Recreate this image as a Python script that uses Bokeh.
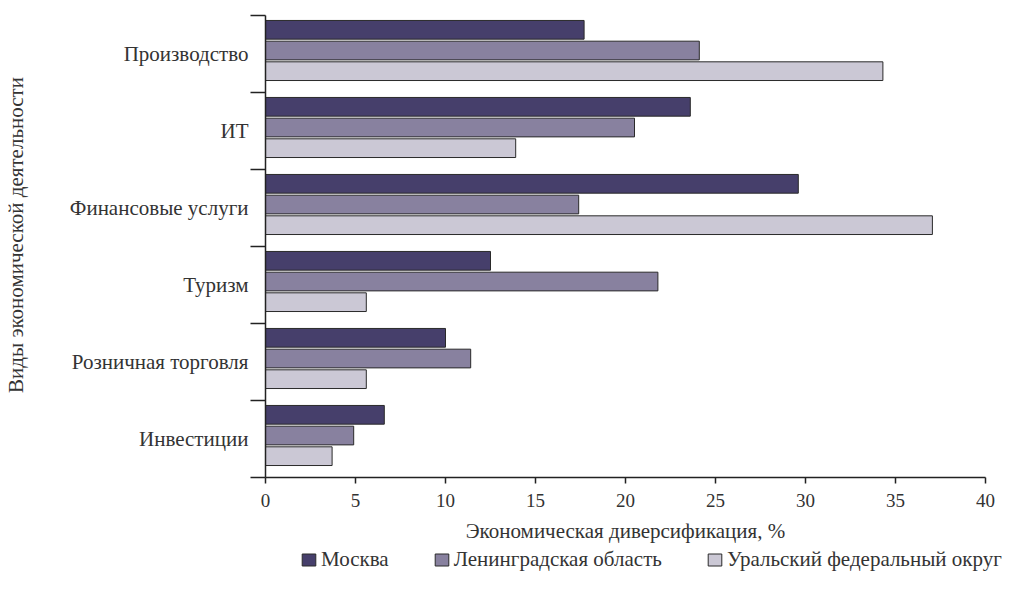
import math
from bokeh.plotting import figure
from bokeh.models import (ColumnDataSource, Range1d, FixedTicker, Legend, LegendItem, Label)
from bokeh.layouts import column, row
from bokeh.embed import file_html
from bokeh.resources import INLINE

categories = ["Производство", "ИТ", "Финансовые услуги", "Туризм", "Розничная торговля", "Инвестиции"]
series = ["Москва", "Ленинградская область", "Уральский федеральный округ"]
moscow = [17.7, 23.6, 29.6, 12.5, 10.0, 6.6]
leningrad = [24.1, 20.5, 17.4, 21.8, 11.4, 4.9]
ural = [34.3, 13.9, 37.05, 5.6, 5.6, 3.7]
x_ticks = [0, 5, 10, 15, 20, 25, 30, 35, 40]
x_title = "Экономическая диверсификация, %"
y_title = "Виды экономической деятельности"

colors = ["#463f6b", "#88819f", "#cbc8d5"]
FONT = "Liberation Serif"
TXT = "#333333"

n = len(categories)
tops = [n - i for i in range(n)]

TOP, BOTTOM, H = 15, 70, 547

p = figure(width=988, height=H, output_backend="svg", toolbar_location=None,
           x_range=Range1d(0, 40), y_range=Range1d(0, n),
           min_border_left=235, min_border_top=TOP, min_border_right=33, min_border_bottom=BOTTOM)
p.outline_line_color = None
p.grid.grid_line_color = None
p.background_fill_color = "white"
p.border_fill_color = "white"

offsets = [0.186, 0.455, 0.723]
vals = [moscow, leningrad, ural]
sources = []
for k in range(3):
    src = ColumnDataSource(dict(y=[t - offsets[k] for t in tops], right=vals[k]))
    sources.append(src)
    p.hbar(y="y", left=0, right="right", height=0.243, source=src,
           fill_color=colors[k], line_color="#2a2a2a", line_width=1)

# x axis
xa = p.xaxis[0]
xa.ticker = FixedTicker(ticks=x_ticks, minor_ticks=[])
xa.axis_line_color = "#222222"
xa.axis_line_width = 1.5
xa.major_tick_line_color = "#222222"
xa.major_tick_line_width = 1.5
xa.major_tick_in = 0
xa.major_tick_out = 6
xa.minor_tick_line_color = None
xa.major_label_standoff = 10
xa.major_label_text_font = FONT
xa.major_label_text_font_size = "19px"
xa.major_label_text_color = TXT
xa.axis_label = x_title
xa.axis_label_text_font = FONT
xa.axis_label_text_font_size = "21px"
xa.axis_label_text_font_style = "normal"
xa.axis_label_text_color = TXT
xa.axis_label_standoff = 9

# y axis
ya = p.yaxis[0]
centers = [t - 0.5 for t in tops]
ya.ticker = FixedTicker(ticks=centers, minor_ticks=list(range(n + 1)))
ya.major_label_overrides = {c: cat for c, cat in zip(centers, categories)}
ya.axis_line_color = "#222222"
ya.axis_line_width = 1.5
ya.major_tick_line_color = None
ya.major_tick_in = 0
ya.major_tick_out = 0
ya.minor_tick_line_color = "#222222"
ya.minor_tick_line_width = 1.5
ya.minor_tick_in = 0
ya.minor_tick_out = 15
ya.major_label_standoff = 2
ya.major_label_text_font = FONT
ya.major_label_text_font_size = "21px"
ya.major_label_text_color = TXT

# y-axis title strip (left)
pt = figure(width=30, height=H, output_backend="svg", toolbar_location=None,
            x_range=Range1d(0, 1), y_range=Range1d(0, n),
            min_border_left=0, min_border_right=0, min_border_top=TOP, min_border_bottom=BOTTOM)
pt.axis.visible = False
pt.grid.grid_line_color = None
pt.outline_line_color = None
pt.add_layout(Label(x=0.5, y=n - 2.85, text=y_title, angle=math.pi / 2,
                    text_align="center", text_baseline="middle",
                    text_font=FONT, text_font_size="21px", text_color=TXT))

# legend strip (bottom)
p2 = figure(width=1018, height=28, output_backend="svg", toolbar_location=None,
            x_range=Range1d(0, 40), y_range=Range1d(100, 101),
            min_border_left=0, min_border_right=0, min_border_top=0, min_border_bottom=0)
p2.axis.visible = False
p2.grid.grid_line_color = None
p2.outline_line_color = None
leg_renderers = []
for k in range(3):
    r = p2.hbar(y="y", left=0, right="right", height=0.243, source=sources[k],
                fill_color=colors[k], line_color="#2a2a2a", line_width=1)
    leg_renderers.append(r)
lg = Legend(items=[LegendItem(label=series[k], renderers=[leg_renderers[k]]) for k in range(3)],
            location=(300, 3), orientation="horizontal", spacing=44,
            padding=0, margin=0, border_line_color=None, background_fill_alpha=0,
            glyph_width=17, glyph_height=15, label_standoff=4,
            label_text_font=FONT, label_text_font_size="21px", label_text_color=TXT,
            label_height=22)
p2.add_layout(lg, "center")

layout = column(row(pt, p, spacing=0), p2, spacing=0)
open("out.html", "w").write(file_html(layout, INLINE))
